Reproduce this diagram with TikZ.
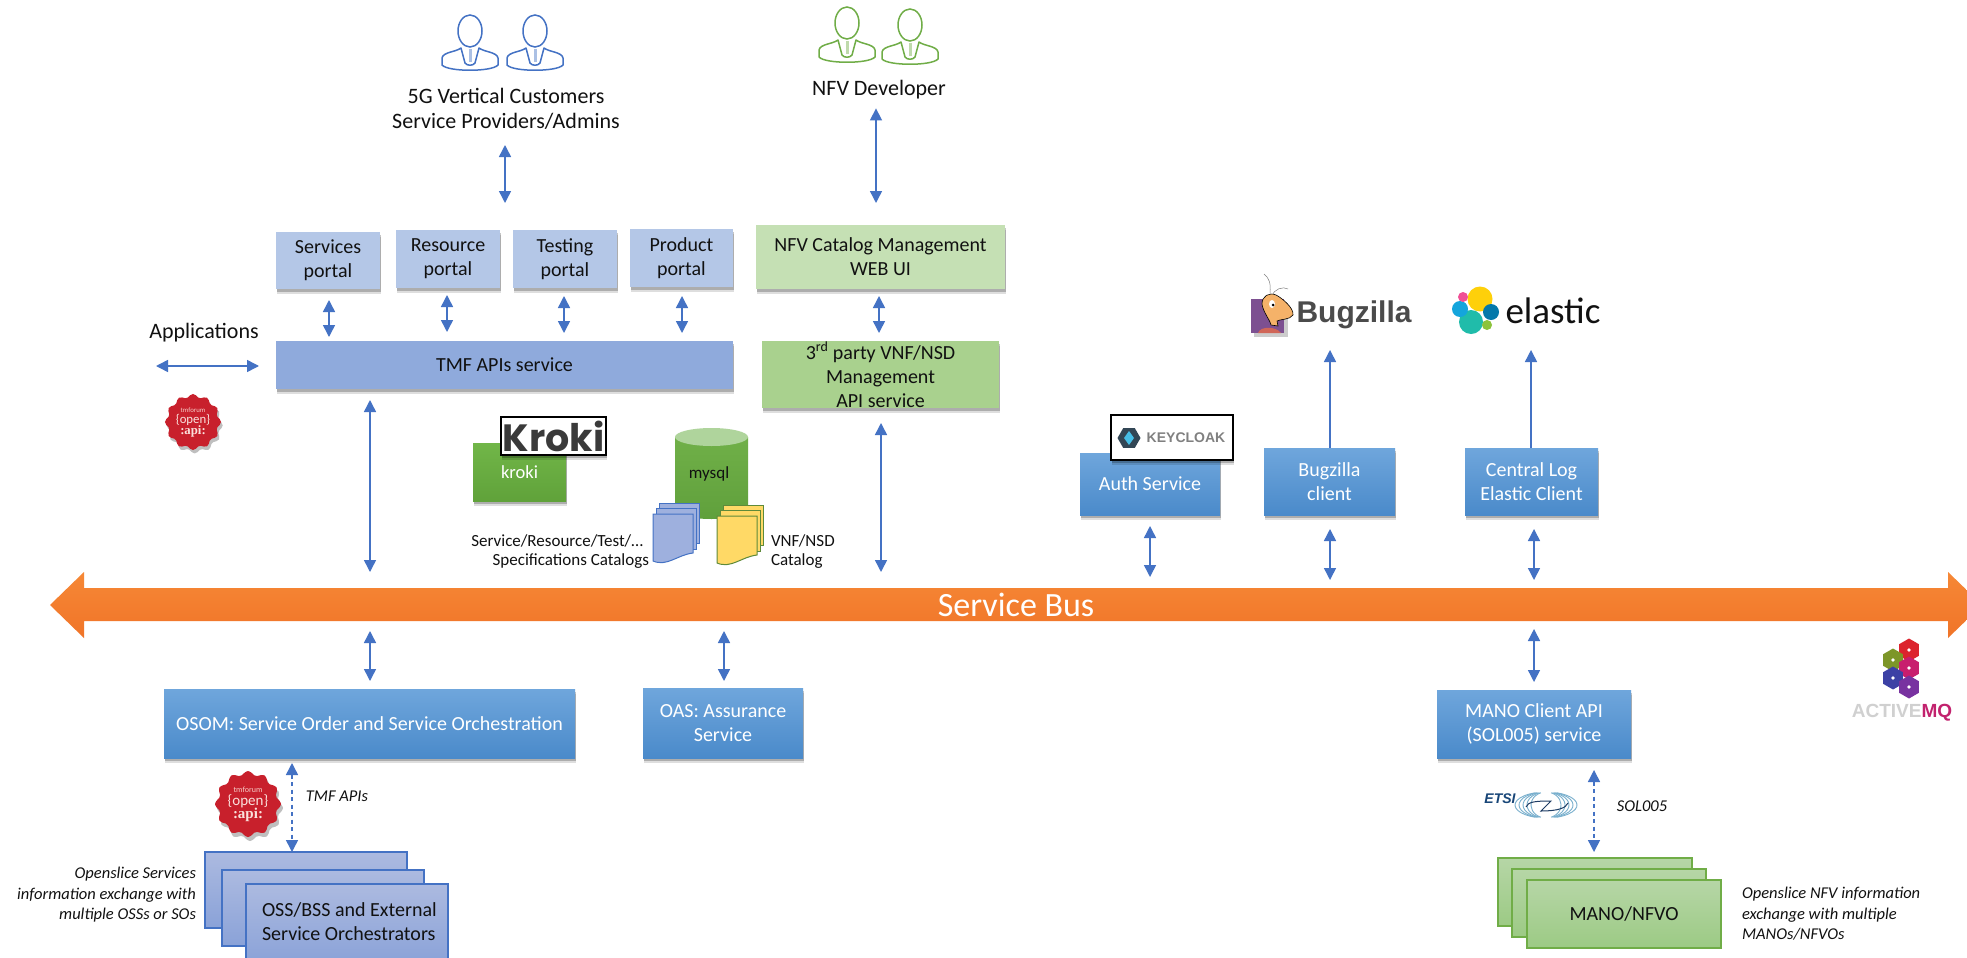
\documentclass[tikz,border=0pt]{standalone}
\usepackage{fontspec}
\setmainfont{Carlito}
\newfontfamily\logofont{Poppins}
\newfontfamily\helv{Liberation Sans}
\newfontfamily\slab{Liberation Serif}
\usetikzlibrary{arrows.meta,shadows,shapes.geometric,calc}
\definecolor{arr}{HTML}{4472C4}
\definecolor{ink}{HTML}{111111}
\definecolor{grn}{HTML}{70AD47}
\definecolor{bluetop}{HTML}{6FA6DC}
\definecolor{bluemid}{HTML}{5498DC}
\definecolor{bluebot}{HTML}{4A8ACA}
\definecolor{sbtop}{HTML}{ACBAE0}
\definecolor{sbbot}{HTML}{8AA2D8}
\definecolor{sgtop}{HTML}{B6D6A6}
\definecolor{sgbot}{HTML}{9CCA84}
\definecolor{pblue}{HTML}{B4C7E7}
\definecolor{pgreen}{HTML}{C5E0B4}
\definecolor{tblue}{HTML}{8FAADC}
\definecolor{tgreen}{HTML}{A9D18E}
\definecolor{krtop}{HTML}{71B648}
\definecolor{krbot}{HTML}{60A23A}
\definecolor{krlog}{HTML}{3A3A3A}
\definecolor{mytop}{HTML}{70B048}
\definecolor{mybot}{HTML}{60A03C}
\definecolor{mylid}{HTML}{AFD49C}
\definecolor{dblue}{HTML}{9EB0DE}
\definecolor{dyel}{HTML}{FFD966}
\definecolor{dyeld}{HTML}{5E8A3A}
\definecolor{badger}{HTML}{C8202C}
\definecolor{badgea}{HTML}{F5CDC8}
\definecolor{badgeb}{HTML}{FAE1DC}
\definecolor{bustop}{HTML}{F68836}
\definecolor{busbot}{HTML}{F07428}
\tikzset{
 sh/.style={drop shadow={shadow xshift=1pt,shadow yshift=-5pt,opacity=.13,fill=black},drop shadow={shadow xshift=.5pt,shadow yshift=-3pt,opacity=.22,fill=black}},
 base/.style={inner sep=0pt,outer sep=0pt,align=center,text=ink,font=\fontsize{20}{24}\selectfont},
 portal/.style={base,sh,fill=#1},
 bluebox/.style={base,sh,text=white,top color=bluetop,middle color=bluemid,bottom color=bluebot},
 stackb/.style={base,draw=arr,line width=1.3pt,top color=sbtop,bottom color=sbbot},
 stackg/.style={base,draw=grn,line width=1.3pt,top color=sgtop,bottom color=sgbot},
 label/.style={inner sep=0pt,outer sep=0pt,align=center,text=ink,font=\fontsize{22}{25}\selectfont},
 small/.style={inner sep=0pt,outer sep=0pt,text=ink,font=\fontsize{17}{20}\selectfont},
 note/.style={inner sep=0pt,outer sep=0pt,text=ink,font=\fontsize{16.5}{20.5}\selectfont\itshape},
 logobox/.style={inner sep=0pt,outer sep=0pt,draw=black,line width=1.2pt,fill=white,sh},
 dbl/.style={draw=arr,line width=1.5pt,{Triangle[length=12pt,width=12pt]}-{Triangle[length=12pt,width=12pt]}},
 dbls/.style={dbl,dash pattern=on 4pt off 3.5pt},
 upar/.style={draw=arr,line width=1.5pt,-{Triangle[length=12pt,width=12pt]}},
 hexa/.style={regular polygon,regular polygon sides=6,shape border rotate=30,minimum size=23pt,inner sep=0pt,outer sep=0pt,fill=#1}
}
\newcommand\bxn[7]{\node[#2,minimum width={#5-#3},minimum height={#6-#4}] (#1) at ({(#3+#5)/2},{(#4+#6)/2}) {#7};}
\newcommand\person[4]{\begin{scope}[shift={(#1,#2)},line width=1.5pt]
  \draw[draw=#3] (0,16) ellipse[x radius=12,y radius=16];
  \draw[draw=#3,line join=round] (-9,33) .. controls (-14,37) and (-27,37) .. (-28,43) -- (-28,50) .. controls (-22,57) and (22,57) .. (28,50) -- (28,43) .. controls (27,37) and (14,37) .. (9,33) -- (5,48) .. controls (3,51) and (-3,51) .. (-5,48) -- cycle;
  \draw[draw=#4,line width=3pt] (0,34) -- (0,47);
\end{scope}}
\newcommand\badge[4]{\begin{scope}[shift={(#2,#3)},scale=#4,transform shape]
  \fill[black,opacity=.25] plot[smooth cycle,domain=0:354,samples=60,variable=\t] ({2+(31+2*cos(12*\t))*cos(\t)},{4+(31+2*cos(12*\t))*sin(\t)});
  \fill[badger] plot[smooth cycle,domain=0:354,samples=60,variable=\t] ({(31+2*cos(12*\t))*cos(\t)},{(31+2*cos(12*\t))*sin(\t)});
  \node[inner sep=0pt,text=badgea,align=center,font=\fontsize{8}{9}\selectfont] (#1a) at (0,-14) {tmforum};
  \node[inner sep=0pt,text=badgeb,font=\fontsize{15}{16}\selectfont] (#1b) at (0,-3) {\{open\}};
  \node[inner sep=0pt,text=badgeb,font=\fontsize{15}{16}\slab\bfseries] (#1c) at (0,11) {:api:};
\end{scope}}
\newcommand\docs[4]{
  \draw[draw=#4,fill=#3,line width=1pt] ({#1+6},{#2-11}) rectangle ({#1+46},{#2+29});
  \draw[draw=#4,fill=#3,line width=1pt] ({#1+3},{#2-6}) rectangle ({#1+43},{#2+35});
  \draw[draw=#4,fill=#3,line width=1pt] (#1,#2) -- ({#1+40},#2) -- ({#1+40},{#2+39}) .. controls ({#1+24},{#2+41}) and ({#1+14},{#2+53}) .. (#1,{#2+47}) -- cycle;
}
\begin{document}
\begin{tikzpicture}[x=1pt,y=-1pt]
\useasboundingbox (0,0) rectangle (1967,958);
\fill[white] (0,0) rectangle (1967,958);
\clip (0,0) rectangle (1967,958);

% ---- people
\person{470}{15}{arr}{arr!45}
\person{535}{15}{arr}{arr!45}
\person{847}{7}{grn}{grn!45}
\person{910}{9}{grn}{grn!45}
\node[label] (cust) at (506,108.5) {5G Vertical Customers\\Service Providers/Admins};
\node[label] (dev) at (879,90) {NFV Developer};
\node[label] (apps) at (204,333) {Applications};

% ---- portals and APIs
\bxn{svc}{portal=pblue}{276}{232}{380}{289}{Services\\portal}
\bxn{res}{portal=pblue}{396}{230}{500}{288}{Resource\\portal}
\bxn{tst}{portal=pblue}{513}{230}{617}{288}{Testing\\portal}
\bxn{prd}{portal=pblue}{630}{229}{733}{287}{Product\\portal}
\bxn{nfvui}{portal=pgreen}{756}{225}{1005}{289}{NFV Catalog Management\\WEB UI}
\bxn{tmf}{portal=tblue}{276}{341}{733}{389}{TMF APIs service}
\bxn{third}{portal=tgreen}{762}{341}{999}{408}{3\textsuperscript{rd} party VNF/NSD\\Management\\API service}

% ---- kroki
\bxn{kroki}{base,sh,text=white,font=\fontsize{18.5}{22}\selectfont,top color=krtop,bottom color=krbot}{473}{443}{566}{501}{kroki}
\bxn{krokilogo}{logobox,text=krlog,font=\fontsize{38}{40}\logofont\bfseries}{501}{417}{606}{455}{Kroki}

% ---- mysql
\path[top color=mytop,bottom color=mybot] (675,437) -- (675,510) arc[start angle=180,end angle=0,x radius=36.5,y radius=9] -- (748,437) -- cycle;
\fill[mylid] (711.5,437) ellipse[x radius=36.5,y radius=9];
\node[small] (mysql) at (709,474) {mysql};
\docs{653}{514}{dblue}{arr}
\docs{717}{516}{dyel}{dyeld}
\node[small,anchor=east] (speca) at (643,541) {Service/Resource/Test/…};
\node[small,anchor=east] (specb) at (649,561) {Specifications Catalogs};
\node[small,anchor=west] (vnfa) at (771,541) {VNF/NSD};
\node[small,anchor=west] (vnfb) at (771,561) {Catalog};

% ---- right clients
\bxn{auth}{bluebox}{1080}{453}{1220}{515}{Auth Service}
\bxn{keycloak}{logobox,text=gray,font=\fontsize{14}{16}\helv\bfseries}{1111}{415}{1233}{460}{\hspace{28pt}KEYCLOAK}
\definecolor{kcd}{HTML}{324655}
\definecolor{kcc}{HTML}{46BEE6}
\node[regular polygon,regular polygon sides=6,minimum size=23pt,inner sep=0pt,fill=kcd] (kchex) at (1129,438) {};
\fill[kcc] (1124,438) -- (1129,431) -- (1134,438) -- (1129,445) -- cycle;
\bxn{bugc}{bluebox}{1264}{448}{1395}{515}{Bugzilla\\client}
\bxn{elc}{bluebox}{1465}{448}{1598}{515}{Central Log\\Elastic Client}

% ---- bugzilla logo
\definecolor{bzp}{HTML}{7D5091}
\definecolor{bzr}{HTML}{D06658}
\definecolor{bzo}{HTML}{F5B269}
\definecolor{bzt}{HTML}{4B4B4B}
\draw[gray,line width=.5pt] (1270,293) .. controls (1271,283) and (1269,278) .. (1264,274);
\draw[gray,line width=.5pt] (1272,296) .. controls (1274,289) and (1283,286) .. (1288,289);
\fill[black,opacity=.2] (1254,304) rectangle (1288,337);
\fill[bzp] (1251,299) rectangle (1284,333);
\fill[bzr] (1258,333) .. controls (1260,326) and (1276,326) .. (1281,333) -- cycle;
\draw[black,fill=bzo,line width=.6pt] (1271,325) .. controls (1270,320) and (1263,312) .. (1262,304) .. controls (1262,296) and (1269,292) .. (1276,295) .. controls (1282,298) and (1294,308) .. (1293,315) .. controls (1290,320) and (1280,319) .. (1277,321) -- (1278,326) -- cycle;
\fill[white] (1272,304) ellipse[x radius=3,y radius=4];
\fill[black] (1273,305) circle[radius=1.5];
\node[inner sep=0pt,text=bzt,font=\fontsize{30}{32}\helv\bfseries] (bzl) at (1354,315) {Bugzilla};

% ---- elastic logo
\definecolor{ea}{HTML}{FED00A}
\definecolor{eb}{HTML}{20BCAA}
\definecolor{ec}{HTML}{14A5DC}
\definecolor{ed}{HTML}{F05096}
\definecolor{ee}{HTML}{0478AA}
\definecolor{ef}{HTML}{8CC33C}
\fill[ea] (1480,299) circle[radius=12.5];
\fill[eb] (1471,322) circle[radius=12];
\fill[ec] (1460,309) circle[radius=8];
\fill[ed] (1463,297) circle[radius=5];
\fill[ee] (1491,312) circle[radius=8];
\fill[ef] (1487,325) circle[radius=5];
\node[inner sep=0pt,text=ink,font=\fontsize{37}{39}\selectfont] (ell) at (1553,311) {elastic};

% ---- first badge
\badge{ba}{193}{422}{.85}

% ---- bus
\path[top color=bustop,bottom color=busbot] (50,605) -- (84,572) -- (84,588) -- (1948,588) -- (1948,572) -- (1967,590.4) -- (1967,619.6) -- (1948,638) -- (1948,621) -- (84,621) -- (84,638) -- cycle;
\node[inner sep=0pt,outer sep=0pt,minimum width=1864pt,minimum height=33pt,text=white,font=\fontsize{34}{36}\selectfont] (bus) at (1016,604.5) {Service Bus};

% ---- lower boxes
\bxn{osom}{bluebox}{164}{689}{575}{758}{OSOM: Service Order and Service Orchestration}
\bxn{oas}{bluebox}{643}{688}{803}{758}{OAS: Assurance\\Service}
\bxn{mano}{bluebox}{1437}{690}{1631}{758}{MANO Client API\\(SOL005) service}
\bxn{oa}{stackb}{205}{852}{407}{928}{}
\bxn{ob}{stackb}{222}{870}{424}{946}{}
\bxn{oc}{stackb}{246}{884}{448}{964}{}
\node[label,anchor=west,align=left,font=\fontsize{20}{24}\selectfont] (octxt) at (262,922) {OSS/BSS and External\\Service Orchestrators};
\bxn{ma}{stackg}{1498}{858}{1692}{926}{}
\bxn{mb}{stackg}{1512}{869}{1706}{937}{}
\bxn{mc}{stackg}{1527}{880}{1721}{948}{MANO/NFVO}
\node[note,anchor=east,align=right] (n1) at (196,895) {Openslice Services\\information exchange with\\multiple OSSs or SOs};
\node[note,anchor=west,align=left] (n2) at (1742,914) {Openslice NFV information\\exchange with multiple\\MANOs/NFVOs};
\node[note] (tmfl) at (337,796) {TMF APIs};
\node[note] (soll) at (1642,806) {SOL005};
\badge{bb}{248}{804}{1}

% ---- etsi logo
\definecolor{etl}{HTML}{78AFCD}
\definecolor{etd}{HTML}{1E3C64}
\definecolor{ett}{HTML}{184678}
\node[inner sep=0pt,text=ett,font=\fontsize{14}{15}\helv\bfseries\itshape] (etsi) at (1500,799) {ETSI};
\foreach \r in {31,27,23,19,15}{
 \draw[etl,line width=.9pt] ({1546+\r*cos(110)},{805+13*sin(110)}) arc[start angle=110,end angle=250,x radius=\r,y radius=13];
 \draw[etl,line width=.9pt] ({1546+\r*cos(70)},{805-13*sin(70)}) arc[start angle=-70,end angle=70,x radius=\r,y radius=13];
}
\draw[etd,line width=1pt] (1526,807) .. controls (1528,802) and (1534,801) .. (1551,801) -- (1541,811) .. controls (1558,811) and (1566,808) .. (1568,803);

% ---- activemq logo
\definecolor{ha}{HTML}{DC232D}
\definecolor{hb}{HTML}{7D9628}
\definecolor{hc}{HTML}{C81E6E}
\definecolor{hd}{HTML}{3C41A5}
\definecolor{he}{HTML}{7832A0}
\definecolor{hf}{HTML}{D0D0D0}
\definecolor{hg}{HTML}{C2226E}
\node[hexa=ha] (h1) at (1909,650) {};
\node[hexa=hb] (h2) at (1893,660) {};
\node[hexa=hc] (h3) at (1909,668) {};
\node[hexa=hd] (h4) at (1893,678) {};
\node[hexa=he] (h5) at (1909,687) {};
\foreach \n in {h1,h2,h3,h4,h5}{\fill[white] (\n) circle[radius=1.8];}
\node[inner sep=0pt,font=\fontsize{19}{21}\helv\bfseries] (amq) at (1902,713) {\textcolor{hf}{ACTIVE}\textcolor{hg}{MQ}};

% ---- free ends of connectors
\coordinate (custtip) at (505,145);
\coordinate (custend) at (505,203);
\coordinate (apptip) at (156,366);
\coordinate (bztip) at (1330,350);
\coordinate (eltip) at (1531,350);

% ---- connectors
\draw[dbl] (custtip) -- (custend);
\draw[dbl,shorten <=9pt,shorten >=22pt] (876,0 |- dev.south) -- (876,0 |- nfvui.north);
\draw[dbl,shorten <=11pt,shorten >=4pt] (329,0 |- svc.south) -- (329,0 |- tmf.north);
\draw[dbl,shorten <=7pt,shorten >=9pt] (447,0 |- res.south) -- (447,0 |- tmf.north);
\draw[dbl,shorten <=8pt,shorten >=8pt] (564,0 |- tst.south) -- (564,0 |- tmf.north);
\draw[dbl,shorten <=9pt,shorten >=8pt] (682,0 |- prd.south) -- (682,0 |- tmf.north);
\draw[dbl,shorten <=7pt,shorten >=8pt] (879,0 |- nfvui.south) -- (879,0 |- third.north);
\draw[dbl,shorten >=17pt] (apptip) -- (apptip -| tmf.west);
\draw[dbl,shorten <=11pt,shorten >=16pt] (370,0 |- tmf.south) -- (370,0 |- bus.north);
\draw[dbl,shorten <=15pt,shorten >=16pt] (881,0 |- third.south) -- (881,0 |- bus.north);
\draw[dbl,shorten <=11pt,shorten >=11pt] (1150,0 |- auth.south) -- (1150,0 |- bus.north);
\draw[dbl,shorten <=14pt,shorten >=8pt] (1330,0 |- bugc.south) -- (1330,0 |- bus.north);
\draw[dbl,shorten <=14pt,shorten >=8pt] (1534,0 |- elc.south) -- (1534,0 |- bus.north);
\draw[upar] (1330,0 |- bugc.north) -- (bztip);
\draw[upar] (1531,0 |- elc.north) -- (eltip);
\draw[dbl,shorten <=10pt,shorten >=8pt] (370,0 |- bus.south) -- (370,0 |- osom.north);
\draw[dbl,shorten <=10pt,shorten >=7pt] (724,0 |- bus.south) -- (724,0 |- oas.north);
\draw[dbl,shorten <=8pt,shorten >=8pt] (1534,0 |- bus.south) -- (1534,0 |- mano.north);
\draw[dbls,shorten <=5pt] (292,0 |- osom.south) -- (292,0 |- oa.north);
\draw[dbls,shorten <=12pt,shorten >=6pt] (1594,0 |- mano.south) -- (1594,0 |- ma.north);
\end{tikzpicture}
\end{document}
